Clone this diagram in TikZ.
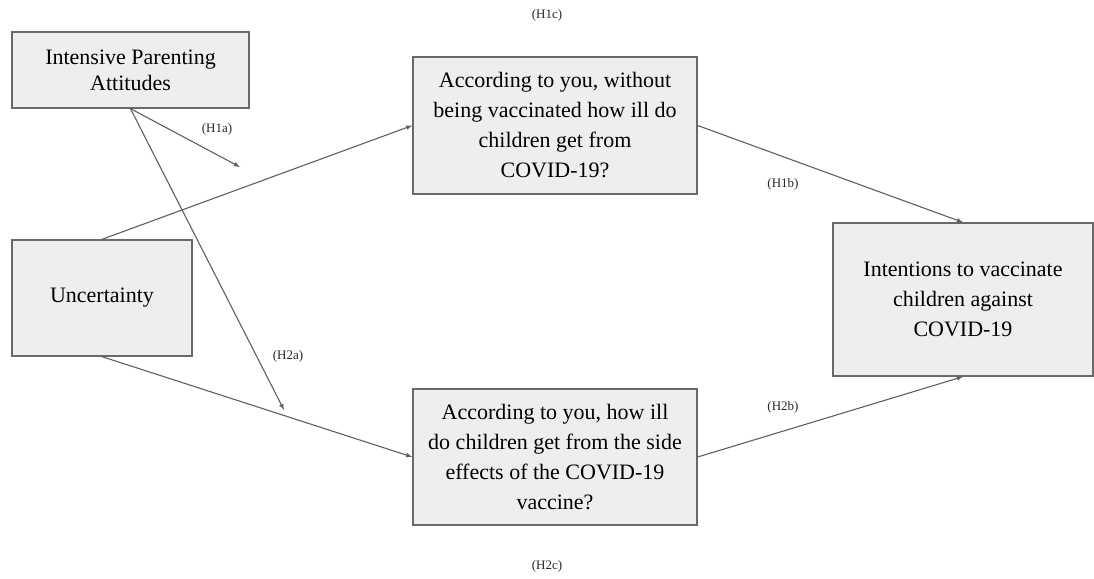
\documentclass[tikz,border=0pt]{standalone}
\usepackage{fontspec}
\setmainfont{Liberation Serif}
\usetikzlibrary{arrows}
\definecolor{boxfill}{RGB}{238,238,238}
\definecolor{boxline}{RGB}{105,105,105}
\definecolor{arrline}{RGB}{95,95,95}
\tikzset{box/.style={draw=boxline,fill=boxfill,line width=1.3pt,align=center,inner sep=0pt,font=\fontsize{22}{30}\selectfont},
hyp/.style={font=\fontsize{13}{15}\selectfont,text=black!85}}

\begin{document}
\begin{tikzpicture}[x=1pt,y=-1pt,semithick,>=latex]
\useasboundingbox (0,0) rectangle (1094,578);
\node[box,minimum width=237,minimum height=76,font=\fontsize{22}{26}\selectfont](IPA)at(130.5,70){Intensive Parenting\\Attitudes};
\node[box,minimum width=180,minimum height=116](UNC)at(102,298){Uncertainty};
\node[box,minimum width=284,minimum height=137](ILL)at(555,125.5){According to you, without\\being vaccinated how ill do\\children get from\\COVID-19?};
\node[box,minimum width=284,minimum height=136](SIDE)at(555,457){According to you, how ill\\do children get from the side\\effects of the COVID-19\\vaccine?};
\node[box,minimum width=260,minimum height=153](INT)at(963,299.5){Intentions to vaccinate\\children against\\COVID-19};
\coordinate(A)at(240,167);\coordinate(B)at(284,410);
\draw[->,arrline,line width=1.1pt](IPA.south)--(A);
\draw[->,arrline,line width=1.1pt](IPA.south)--(B);
\draw[->,arrline,line width=1.1pt](UNC.north)--(ILL.west);
\draw[->,arrline,line width=1.1pt](UNC.south)--(SIDE.west);
\draw[->,arrline,line width=1.1pt](ILL.east)--(INT.north);
\draw[->,arrline,line width=1.1pt](SIDE.east)--(INT.south);
\node[hyp](H1c)at(547,15){(H1c)};
\node[hyp](H1a)at(217,129){(H1a)};
\node[hyp](H1b)at(783,184){(H1b)};
\node[hyp](H2a)at(288,356){(H2a)};
\node[hyp](H2b)at(783,407){(H2b)};
\node[hyp](H2c)at(547,566){(H2c)};
\end{tikzpicture}
\end{document}
